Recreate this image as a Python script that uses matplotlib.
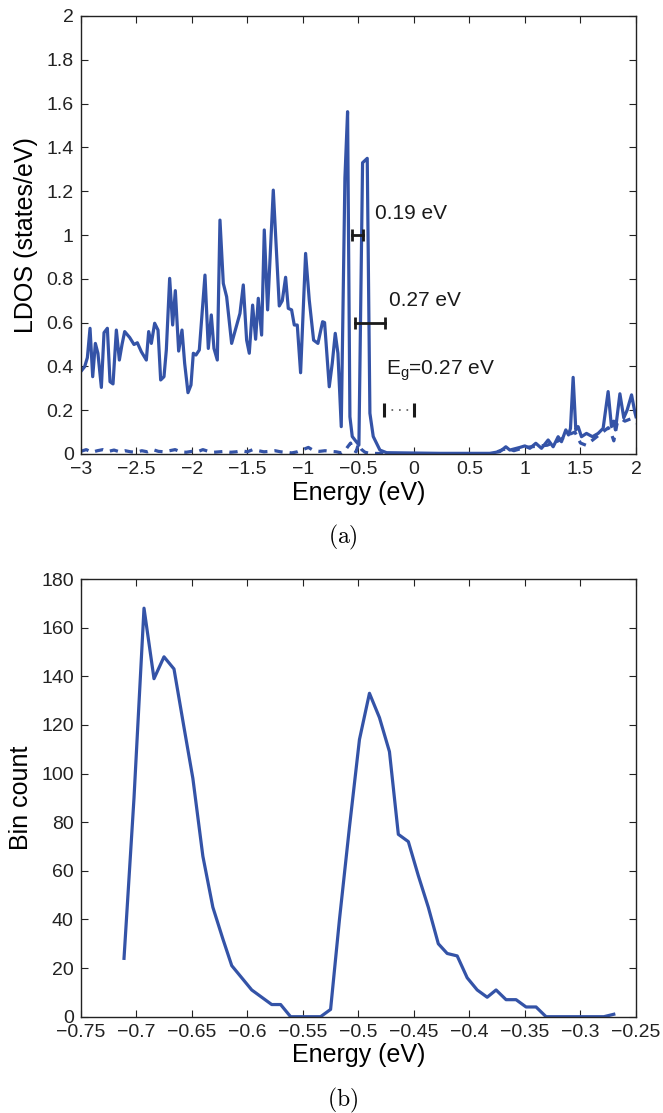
import numpy as np
import matplotlib
matplotlib.use("Agg")
from matplotlib import pyplot as plt

plt.rcParams['font.family'] = ['Liberation Sans', 'DejaVu Sans']
plt.rcParams['mathtext.fontset'] = 'custom'
plt.rcParams['mathtext.rm'] = 'Liberation Sans'
plt.rcParams['mathtext.it'] = 'Liberation Sans:italic'

##### (a) LDOS data #####
ldos_e = [-3.000, -2.964, -2.940, -2.916, -2.892, -2.868, -2.845, -2.814, -2.790, -2.760,
          -2.736, -2.709, -2.679, -2.652, -2.628, -2.604, -2.559, -2.520, -2.490, -2.454,
          -2.409, -2.388, -2.364, -2.334, -2.304, -2.280, -2.250, -2.229, -2.199, -2.172,
          -2.148, -2.118, -2.088, -2.064, -2.034, -2.007, -1.986, -1.962, -1.932, -1.881,
          -1.851, -1.824, -1.800, -1.770, -1.746, -1.716, -1.686, -1.641, -1.566, -1.536,
          -1.506, -1.482, -1.452, -1.425, -1.401, -1.371, -1.347, -1.317, -1.266, -1.212,
          -1.185, -1.155, -1.131, -1.101, -1.077, -1.050, -1.020, -0.975, -0.942, -0.903,
          -0.864, -0.822, -0.804, -0.762, -0.735, -0.708, -0.684, -0.654, -0.621, -0.597,
          -0.576, -0.555, -0.531, -0.495, -0.462, -0.420, -0.396, -0.366, -0.306, -0.246,
          0.234, 0.684, 0.774, 0.828, 0.864, 0.954, 0.999, 1.044, 1.098, 1.149,
          1.209, 1.254, 1.299, 1.329, 1.368, 1.392, 1.410, 1.434, 1.458, 1.479,
          1.509, 1.554, 1.608, 1.659, 1.704, 1.749, 1.779, 1.800, 1.815, 1.855,
          1.890, 1.920, 1.960, 1.990, 2.000]
ldos_total = [0.376, 0.399, 0.440, 0.574, 0.353, 0.505, 0.460, 0.304, 0.554, 0.574,
              0.330, 0.320, 0.566, 0.429, 0.500, 0.559, 0.532, 0.500, 0.508, 0.467,
              0.429, 0.559, 0.505, 0.597, 0.566, 0.338, 0.353, 0.475, 0.802, 0.589,
              0.746, 0.470, 0.566, 0.414, 0.280, 0.315, 0.460, 0.452, 0.475, 0.817,
              0.482, 0.635, 0.482, 0.429, 1.068, 0.779, 0.718, 0.505, 0.642, 0.772,
              0.520, 0.460, 0.680, 0.524, 0.711, 0.543, 1.023, 0.658, 1.205, 0.676,
              0.700, 0.807, 0.665, 0.658, 0.589, 0.589, 0.371, 0.916, 0.703, 0.520,
              0.505, 0.604, 0.600, 0.307, 0.414, 0.551, 0.460, 0.125, 1.260, 1.563,
              0.170, 0.080, 0.064, 0.041, 1.330, 1.350, 0.186, 0.080, 0.018, 0.006,
              0.003, 0.003, 0.011, 0.033, 0.018, 0.030, 0.037, 0.026, 0.049, 0.026,
              0.064, 0.033, 0.079, 0.056, 0.110, 0.087, 0.117, 0.350, 0.110, 0.125,
              0.079, 0.094, 0.079, 0.094, 0.117, 0.285, 0.125, 0.150, 0.110, 0.275,
              0.165, 0.200, 0.270, 0.190, 0.170]

proj_e = [-3.00, -2.95, -2.90, -2.85, -2.80, -2.75, -2.70, -2.65, -2.60, -2.55,
          -2.50, -2.45, -2.40, -2.35, -2.30, -2.25, -2.20, -2.15, -2.10, -2.05,
          -2.00, -1.95, -1.90, -1.85, -1.80, -1.75, -1.70, -1.65, -1.60, -1.55,
          -1.50, -1.45, -1.40, -1.35, -1.30, -1.25, -1.20, -1.15, -1.10, -1.05,
          -1.00, -0.95, -0.90, -0.85, -0.80, -0.75, -0.70, -0.65, -0.62, -0.60,
          -0.57, -0.55, -0.52, -0.50, -0.47, -0.44, -0.40, 0.00, 0.70, 0.80,
          0.85, 0.90, 1.00, 1.10, 1.20, 1.30, 1.40, 1.45, 1.48, 1.50,
          1.55, 1.60, 1.65, 1.70, 1.75, 1.78, 1.80, 1.83, 1.87, 1.90,
          1.95, 2.00]
ldos_proj = [0.012, 0.020, 0.008, 0.015, 0.020, 0.012, 0.018, 0.010, 0.015, 0.010,
             0.008, 0.015, 0.010, 0.020, 0.012, 0.010, 0.015, 0.020, 0.010, 0.008,
             0.012, 0.010, 0.020, 0.012, 0.008, 0.010, 0.012, 0.008, 0.010, 0.015,
             0.010, 0.020, 0.015, 0.010, 0.012, 0.015, 0.010, 0.008, 0.005, 0.010,
             0.020, 0.030, 0.015, 0.012, 0.015, 0.012, 0.010, 0.005, 0.015, 0.030,
             0.050, 0.020, 0.010, 0.045, 0.020, 0.008, 0.003, 0.000, 0.000, 0.020,
             0.025, 0.015, 0.030, 0.035, 0.040, 0.060, 0.090, 0.100, 0.070, 0.050,
             0.040, 0.060, 0.080, 0.100, 0.120, 0.090, 0.060, 0.140, 0.160, 0.150,
             0.160, 0.140]

##### (b) histogram of level energies #####
bin_e = [-0.711, -0.702, -0.693, -0.684, -0.675, -0.666, -0.657, -0.649, -0.640, -0.631,
         -0.622, -0.614, -0.605, -0.596, -0.587, -0.578, -0.570, -0.561, -0.552, -0.543,
         -0.534, -0.525, -0.517, -0.508, -0.499, -0.490, -0.481, -0.472, -0.464, -0.455,
         -0.446, -0.437, -0.428, -0.420, -0.411, -0.402, -0.393, -0.384, -0.376, -0.367,
         -0.358, -0.349, -0.340, -0.331, -0.323, -0.314, -0.305, -0.296, -0.287, -0.279,
         -0.270]
bin_count = [24, 90, 168, 139, 148, 143, 119, 98, 66, 45,
             32, 21, 16, 11, 8, 5, 5, 0, 0, 0,
             0, 3, 40, 78, 114, 133, 123, 109, 75, 72,
             58, 45, 30, 26, 25, 16, 11, 8, 11, 7,
             7, 4, 4, 0, 0, 0, 0, 0, 0, 0,
             1]

blue = '#3453a7'
W, H = 663, 1113
fig = plt.figure(figsize=(W / 100, H / 100), dpi=100)


def style(ax):
    ax.tick_params(direction='in', top=True, right=True, length=5, width=0.8,
                   labelsize=14, pad=5, colors='#222222')
    for s in ax.spines.values():
        s.set_linewidth(1.0)
        s.set_color('#222222')


# top panel
ax1 = fig.add_axes([80.7 / W, 1 - 454 / H, 555.3 / W, 438 / H])
ax1.plot(ldos_e, ldos_total, color=blue, lw=2.3, solid_joinstyle='round')
ax1.plot(proj_e, ldos_proj, color=blue, lw=2.3, dashes=(2.6, 2.2))
ax1.set_xlim(-3, 2)
ax1.set_ylim(0, 2)
xt = np.arange(-3, 2.01, 0.5)
ax1.set_xticks(xt)
ax1.set_xticklabels(['%g' % v if v >= 0 else '\u2212%g' % -v for v in xt])
yt = np.arange(0, 2.01, 0.2)
ax1.set_yticks(yt)
ax1.set_yticklabels(['%g' % round(v, 1) for v in yt])
ax1.set_xlabel('Energy (eV)', fontsize=18, labelpad=2)
ax1.set_ylabel('LDOS (states/eV)', fontsize=18, labelpad=6)
style(ax1)

# annotations
ax1.plot([-0.56, -0.46], [1.0, 1.0], color='#1a1a1a', lw=2, marker='|', ms=8, mew=2)
ax1.plot([-0.53, -0.26], [0.6, 0.6], color='#1a1a1a', lw=2, marker='|', ms=8, mew=2)
ax1.plot([-0.27, 0.0], [0.2, 0.2], color='#555555', lw=1.2, ls=(0, (1, 3.5)))
ax1.plot([-0.27, 0.0], [0.2, 0.2], ls='none', color='#1a1a1a', marker='|', ms=10, mew=2.2)
ax1.text(-0.35, 1.10, '0.19 eV', fontsize=15, va='center', color='#1a1a1a')
ax1.text(-0.22, 0.70, '0.27 eV', fontsize=15, va='center', color='#1a1a1a')
ax1.text(-0.25, 0.38, r'E$_\mathrm{g}$=0.27 eV', fontsize=15, va='center', color='#1a1a1a')

# bottom panel
ax2 = fig.add_axes([80.7 / W, 1 - 1016.7 / H, 555.3 / W, 437.7 / H])
ax2.plot(bin_e, bin_count, color=blue, lw=2.3)
ax2.set_xlim(-0.75, -0.25)
ax2.set_ylim(0, 180)
xt2 = np.arange(-0.75, -0.249, 0.05)
ax2.set_xticks(xt2)
ax2.set_xticklabels(['\u2212%g' % round(-v, 2) for v in xt2])
ax2.set_yticks(np.arange(0, 181, 20))
ax2.set_xlabel('Energy (eV)', fontsize=18, labelpad=2)
ax2.set_ylabel('Bin count', fontsize=18, labelpad=6)
style(ax2)

fig.text(343 / W, 1 - 537 / H, r'$\mathrm{(a)}$', fontsize=17, ha='center', va='center',
         math_fontfamily='cm')
fig.text(343 / W, 1 - 1100 / H, r'$\mathrm{(b)}$', fontsize=17, ha='center', va='center',
         math_fontfamily='cm')

fig.savefig('out.png', dpi=100)
